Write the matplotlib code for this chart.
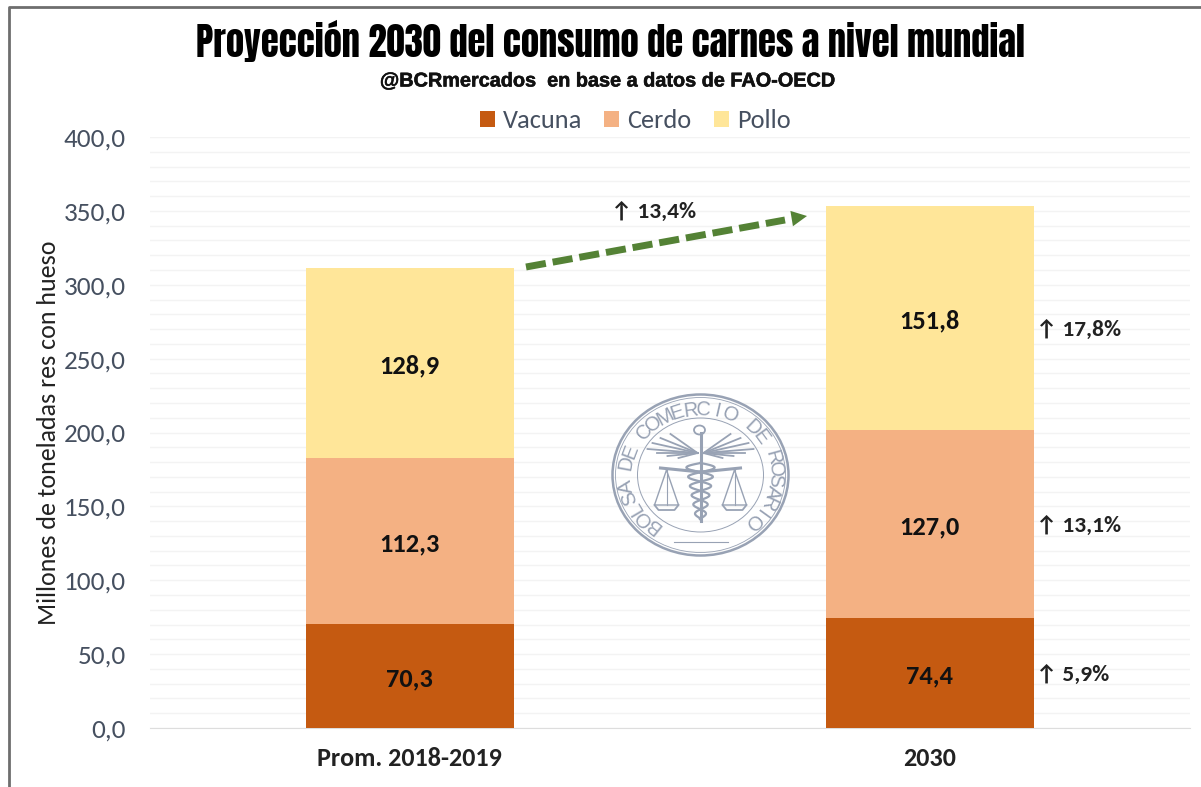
import numpy as np
import matplotlib
matplotlib.use('Agg')
import matplotlib.pyplot as plt
import matplotlib.patheffects as pe
from matplotlib.patches import Ellipse, FancyArrowPatch
from matplotlib.ticker import FuncFormatter, MultipleLocator

categories = ['Prom. 2018-2019', '2030']
vacuna = [70.3, 74.4]
cerdo = [112.3, 127.0]
pollo = [128.9, 151.8]
ticks = [0, 50, 100, 150, 200, 250, 300, 350, 400]
growth_total = '13,4%'
growth_labels = ['5,9%', '13,1%', '17,8%']

FONT = ['Carlito', 'Lato', 'DejaVu Sans']
W, H = 1201, 787

fig = plt.figure(figsize=(W / 100, H / 100), dpi=100)
ax = fig.add_axes([149.5 / W, 1 - 728 / H, 1040 / W, 591 / H])

x = np.arange(len(categories))
base2 = np.array(vacuna) + np.array(cerdo)
b1 = ax.bar(x, vacuna, 0.4, color='#C55A11', label='Vacuna', zorder=3)
b2 = ax.bar(x, cerdo, 0.4, bottom=vacuna, color='#F4B183', label='Cerdo', zorder=3)
b3 = ax.bar(x, pollo, 0.4, bottom=base2, color='#FFE699', label='Pollo', zorder=3)

for bars in (b1, b2, b3):
    labs = ax.bar_label(bars, labels=[f'{v:.1f}'.replace('.', ',') for v in bars.datavalues],
                        label_type='center', fontsize=19, fontweight='bold', family=FONT,
                        color='#111111', zorder=5)
    for lab in labs:
        lab.xyann = (0, -2)

ax.set_xlim(-0.5, 1.5)
ax.set_ylim(0, 400)
ax.set_yticks(ticks)
ax.yaxis.set_major_formatter(FuncFormatter(lambda v, p: f'{v:.1f}'.replace('.', ',')))
ax.yaxis.set_minor_locator(MultipleLocator(10))
ax.grid(True, which='both', axis='y', color='#F3F3F3', lw=1, zorder=0)
ax.set_axisbelow(True)
ax.set_xticks(x)
ax.set_xticklabels(categories, fontsize=18.8, fontweight='bold', family=FONT, color='#222222')
ax.tick_params(axis='both', which='both', length=0)
ax.tick_params(axis='y', labelsize=19.5, labelcolor='#465060', pad=17)
ax.tick_params(axis='x', pad=14)
for lab in ax.get_yticklabels():
    lab.set_family(FONT)
    lab.set_va('center_baseline')
for s in ('top', 'right', 'left'):
    ax.spines[s].set_visible(False)
ax.spines['bottom'].set_color('#DDDDDD')
ax.set_ylabel('Millones de toneladas res con hueso', fontsize=18.6, family=FONT, color='#222222')
ax.yaxis.set_label_coords((60 - 149.5) / 1040, 0.5)

leg = fig.legend(handles=[b1, b2, b3], loc='center', bbox_to_anchor=(635 / W, 1 - 121 / H), ncol=3,
                 frameon=False, handlelength=0.57, handleheight=0.57,
                 handletextpad=0.3, columnspacing=0.85, prop={'family': FONT, 'size': 19})
for t in leg.get_texts():
    t.set_color('#465060')

# overlay in pixel coordinates: frame, titles, growth notes, seal
ov = fig.add_axes([0, 0, 1, 1], facecolor='none')
ov.set_xlim(0, W)
ov.set_ylim(H, 0)
ov.axis('off')
ov.set_zorder(4)

ov.plot([9, 9, W], [H, 7, 7], color='#6e6e6e', lw=2)

ov.text(610, 41, 'Proyección 2030 del consumo de carnes a nivel mundial', ha='center', va='center',
        fontsize=26.3, family=['Anton', 'Liberation Sans'], color='black')
ov.text(608, 81, '@BCRmercados  en base a datos de FAO-OECD', ha='center', va='center',
        fontsize=14.3, fontweight='bold', family='Liberation Sans', color='#111111',
        path_effects=[pe.withStroke(linewidth=0.4, foreground='#111111')])

ov.text(611, 212, '↑ ' + growth_total, ha='left', va='center', fontsize=16.8, fontweight='bold',
        family=FONT, color='#222222')
for lab, yp in zip(growth_labels, [675, 526, 330]):
    ov.text(1036, yp, '↑ ' + lab, ha='left', va='center', fontsize=16.8, fontweight='bold',
            family=FONT, color='#222222')

ov.plot([526, 785], [267, 220], color='#548235', lw=5, dashes=(2.9, 1.0))
ov.add_patch(FancyArrowPatch((783, 220), (807, 216), arrowstyle='-|>', mutation_scale=28,
                             color='#548235', lw=0, shrinkA=0, shrinkB=0))

# seal of the Bolsa
sc = '#98a2b4'
cx, cy = 700.5, 475
ov.add_patch(Ellipse((cx, cy), 176, 161, fill=False, ec=sc, lw=1.8))
ov.add_patch(Ellipse((cx, cy), 170, 155, fill=False, ec=sc, lw=0.6))
ov.add_patch(Ellipse((cx, cy), 126, 114, fill=False, ec=sc, lw=0.7))
seal_text = 'BOLSA DE COMERCIO DE ROSARIO'
angles = np.linspace(-141, 136, len(seal_text))
for ch, a in zip(seal_text, angles):
    r = np.radians(a)
    ov.text(cx + 75 * np.sin(r), cy - 65 * np.cos(r), ch, rotation=-a, rotation_mode='anchor',
            ha='center', va='center', fontsize=14.5, family='Liberation Sans', color=sc)
# wings
for side in (-1, 1):
    for dx, dy in [(53, -2), (48, -8), (40, -13), (30, -17), (44, 2), (33, 5), (22, 7)]:
        ov.plot([cx + side * 3, cx + side * dx], [cy - 22, cy - 24 + dy], color=sc, lw=1.3)
    # scale pans
    px = cx + side * 34
    ov.plot([cx, cx + side * 40], [cy - 3, cy - 7], color=sc, lw=2.2)
    ov.plot([px, px - 12, px + 12, px], [cy - 5, cy + 30, cy + 30, cy - 5], color=sc, lw=1)
    ov.plot([px, px], [cy - 5, cy + 30], color=sc, lw=0.8)
    ov.plot([px - 12, px - 8, px + 8, px + 12], [cy + 30, cy + 35, cy + 35, cy + 30], color=sc, lw=1.3)
# staff and snake
ov.plot([cx, cx], [cy - 42, cy + 46], color=sc, lw=2.2)
ov.add_patch(Ellipse((cx - 1, cy - 45), 11, 9, fill=False, ec=sc, lw=1.3))
t = np.linspace(0, 1, 120)
ov.plot(cx + 15 * (1 - 0.7 * t) * np.sin(t * 19), cy - 12 + 56 * t, color=sc, lw=1.6)
ov.plot(cx - 15 * (1 - 0.7 * t) * np.sin(t * 19), cy - 12 + 56 * t, color=sc, lw=1.6)
ov.plot([cx - 27, cx + 27], [cy + 67, cy + 67], color=sc, lw=0.8)

fig.savefig('out.png', dpi=100)
